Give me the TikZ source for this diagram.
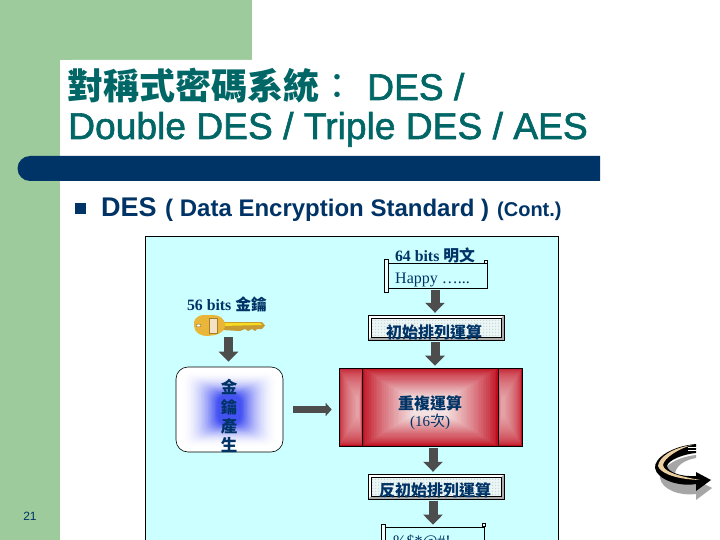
\documentclass[tikz,border=0pt]{standalone}
\usepackage{fontspec}
\setmainfont{Liberation Serif}
\setsansfont{Liberation Sans}
\newfontfamily\cjk{Noto Sans CJK TC}
\newfontfamily\titlesf[FakeBold=1.6]{Liberation Sans}
\usetikzlibrary{arrows.meta, patterns}
\definecolor{Side}{HTML}{9DCB9C}
\definecolor{Navy}{HTML}{003366}
\definecolor{TitleTeal}{HTML}{006666}
\definecolor{Panel}{HTML}{CCFFFF}
\definecolor{ArrowGray}{HTML}{4D4D4D}
\definecolor{BoxRed}{HTML}{C00D1E}
\definecolor{PaleRed}{HTML}{F4E2E2}
\definecolor{KeyGold}{HTML}{E9B63A}
\definecolor{KeyBlue}{HTML}{4552F2}
\definecolor{Tan}{HTML}{EBCFA0}
\definecolor{PaleFill}{HTML}{EAF6F6}
\pgfdeclarepatternformonly{sparsedots}{\pgfpointorigin}{\pgfqpoint{3pt}{3pt}}{\pgfqpoint{3pt}{3pt}}{
  \pgfpathcircle{\pgfqpoint{1pt}{1pt}}{0.42pt}\pgfusepath{fill}}
\tikzset{
  blockarrow/.style={ArrowGray, line width=9pt, shorten >=2pt, shorten <=2pt, -{Triangle[length=10pt, width=19pt]}},
  thinarrow/.style={ArrowGray, line width=7pt, shorten >=7pt, shorten <=10pt, -{Triangle[length=6pt, width=13pt]}},
  boxtext/.style={Navy, font=\cjk\bfseries\fontsize{16}{17}\selectfont, inner sep=0pt},
  vertext/.style={Navy, font=\cjk\bfseries\fontsize{16.5}{17}\selectfont, inner sep=0pt},
  labeltext/.style={Navy, inner sep=0pt, font=\bfseries\fontsize{15.8}{17}\selectfont},
  scrollbox/.style={draw=black, fill=Panel, minimum width=100pt, minimum height=25pt, inner sep=0pt, line width=0.7pt},
  scrollcurl/.style={draw=black, fill=Panel!40!white, inner sep=0pt, line width=0.5pt},
  bevel/.style={fill=gray!65, minimum width=136pt, minimum height=25pt, inner sep=0pt},
  bevelinner/.style={draw=black, minimum width=130pt, minimum height=19pt, inner sep=0pt, line width=0.4pt, preaction={fill=PaleFill}, pattern=sparsedots, pattern color=gray!80},
  panetext/.style={Navy, inner sep=0pt, anchor=base west, font=\fontsize{16}{18}\selectfont},
  titletext/.style={TitleTeal, anchor=base west, inner sep=0pt, font=\titlesf\fontsize{37.2}{38}\selectfont}
}
\begin{document}
\begin{tikzpicture}[x=1pt, y=-1pt]
  \clip (0,0) rectangle (720,540);
  % Slide background
  \fill[white] (0,0) rectangle (720,540);
  \fill[Side] (0,0) rectangle (252,60);
  \fill[Side] (0,0) rectangle (60,540);
  \fill[white] (60,72) arc[start angle=180, end angle=270, radius=12] -- (252,60) -- (252,72) -- cycle;
  % Title
  \node[titletext, font=\cjk\bfseries\fontsize{36}{36}\selectfont] (title1) at (67,100) {對稱式密碼系統};
  \node[titletext, font=\cjk\fontsize{36}{36}\selectfont] (titlecolon) at (title1.base east) {：};
  \node[titletext] (title2) at (367,100) {DES /};
  \node[titletext] (title3) at (68,139) {Double DES / Triple DES / AES};
  \fill[Navy] (600,156) -- (30,156) arc[start angle=270, end angle=90, radius=12.5] -- (600,181) -- cycle;
  % Bullet line
  \fill[Navy] (75,203) rectangle (86,214);
  \node[Navy, anchor=base west, inner sep=0pt, font=\sffamily\bfseries\fontsize{27}{28}\selectfont] (des) at (101,217) {DES};
  \node[Navy, anchor=base west, inner sep=0pt, font=\sffamily\bfseries\fontsize{24}{26}\selectfont] (desname) at (165,217) {( Data Encryption Standard )};
  \node[Navy, anchor=base west, inner sep=0pt, font=\sffamily\bfseries\fontsize{20}{22}\selectfont] (cont) at (497,217) {(Cont.)};
  \node[Navy, font=\sffamily\fontsize{12}{14}\selectfont, inner sep=0pt] (pagenum) at (30,516) {21};
  % Panel
  \draw[black, fill=Panel, line width=0.7pt] (145,236) rectangle (558,560);
  % Key
  \node[labeltext] (keylabel) at (227,304) {56 bits {\cjk 金鑰}};
  \node[inner sep=0pt, minimum width=71pt, minimum height=21pt] (keyimg) at (229.5,325.5) {};
  \fill[KeyGold!85!black] (222,322) -- (262,322) -- (265,325.5) -- (262,329) -- (257,329) -- (255,331) -- (252,329) -- (248,331) -- (245,329) -- (240,331) -- (222,330) -- cycle;
  \fill[yellow!60!KeyGold] (222,323) -- (260,323) -- (262,325) -- (222,326) -- cycle;
  \fill[KeyGold] (205,315) .. controls (196,315) and (193,320) .. (194,326) .. controls (195,333) and (200,336) .. (208,336) -- (215,335) .. controls (222,333) and (225,330) .. (225,325) .. controls (225,319) and (220,315) .. (213,315) -- cycle;
  \fill[Tan!60!white, draw=KeyGold!70!black, line width=0.4pt] (209,318) rectangle (217,333);
  \fill[white, draw=KeyGold!60!black, line width=0.4pt] (198.5,325.5) circle[x radius=2.5, y radius=1.5];
  % Key generator, nested fill
  \fill[white, rounded corners=12pt] (176,367) rectangle (283,452);
  \foreach \i in {0,...,30} {
    \pgfmathsetmacro{\mix}{min(100,\i*\i/7)}
    \fill[KeyBlue!\mix!white, rounded corners=8pt] ({180+\i*1.4},{371+\i*0.9}) rectangle ({279-\i*1.4},{448-\i*0.9});
  }
  \node[draw=black, rounded corners=12pt, minimum width=107pt, minimum height=85pt, inner sep=0pt, line width=0.6pt] (keygen) at (229.5,409.5) {};
  \node[vertext] (kg1) at (229,387) {金};
  \node[vertext] (kg2) at (229,407) {鑰};
  \node[vertext] (kg3) at (229,426) {產};
  \node[vertext] (kg4) at (229,445) {生};
  % Plaintext scroll
  \node[labeltext] (plainlabel) at (435,255) {64 bits {\cjk 明文}};
  \node[scrollbox] (plain) at (437,275.5) {};
  \node[scrollcurl, minimum width=4pt, minimum height=33pt] (plaincurl) at (386,275.5) {};
  \node[scrollcurl, minimum size=3pt] (plaintip) at (485.5,261.5) {};
  \node[panetext] (plaintext) at (395,283) {Happy …...};
  % Permutation boxes
  \node[bevel] (ipbox) at (436,327.5) {};
  \node[bevel] (fpbox) at (436,486.5) {};
  \foreach \b in {ipbox, fpbox} {
    \fill[white] (\b.north west) -- (\b.north east) -- ([xshift=-3pt, yshift=-3pt]\b.north east) -- ([xshift=3pt, yshift=-3pt]\b.north west) -- ([xshift=3pt, yshift=3pt]\b.south west) -- (\b.south west) -- cycle;
    \draw[black, line width=0.6pt] (\b.north west) rectangle (\b.south east);
  }
  \node[bevelinner] (ipinner) at (ipbox) {};
  \node[bevelinner] (fpinner) at (fpbox) {};
  \node[boxtext] (iptext) at (434,332) {初始排列運算};
  \node[boxtext] (fptext) at (435,490) {反初始排列運算};
  % Repeated rounds, nested fill
  \fill[BoxRed] (339,368) rectangle (522,446);
  \foreach \i in {0,...,30} {
    \pgfmathsetmacro{\mix}{100*(\i/30)^0.8}
    \pgfmathsetmacro{\side}{70*sqrt(\i/30)}
    \fill[PaleRed!\mix!BoxRed] ({362+\i*1.7},{368+\i*1.05}) rectangle ({498-\i*1.7},{446-\i*1.05});
    \fill[PaleRed!\side!BoxRed] ({339+\i*0.6},{368+\i*1.0}) rectangle ({362-\i*0.1},{446-\i*1.0});
    \fill[PaleRed!\side!BoxRed] ({498+\i*0.1},{368+\i*1.0}) rectangle ({522-\i*0.6},{446-\i*1.0});
  }
  \node[draw=black, minimum width=183pt, minimum height=78pt, inner sep=0pt, line width=0.6pt] (rounds) at (430.5,407) {};
  \draw[black, line width=0.6pt] (362,368) -- (362,446);
  \draw[black, line width=0.6pt] (498,368) -- (498,446);
  \node[boxtext] (roundstext) at (430,403) {重複運算};
  \node[Navy, inner sep=0pt, font=\fontsize{15}{17}\selectfont] (roundscount) at (430,422) {(16{\cjk 次})};
  % Ciphertext scroll
  \node[scrollbox] (cipher) at (434,539.5) {};
  \node[scrollcurl, minimum width=4pt, minimum height=33pt] (ciphercurl) at (383,541) {};
  \node[scrollcurl, minimum size=3pt] (ciphertip) at (483.5,525) {};
  \node[panetext] (ciphertext) at (393,546) {\%\$*@\#!};
  % Connectors
  \draw[blockarrow] ([xshift=-2pt]plain.south) -- ([xshift=-1pt]ipbox.north);
  \draw[blockarrow] ([xshift=-1pt]ipbox.south) -- ([xshift=4.5pt]rounds.north);
  \draw[blockarrow] ([xshift=2.5pt]rounds.south) -- ([xshift=-3pt]fpbox.north);
  \draw[blockarrow] ([xshift=-3pt]fpbox.south) -- ([xshift=-1pt]cipher.north);
  \draw[blockarrow, shorten <=1pt, shorten >=5pt] ([xshift=-1pt]keyimg.south) -- ([xshift=-1pt]keygen.north);
  \draw[thinarrow] (keygen.east) -- (rounds.west |- keygen.east);
  % Return icon
  \node[inner sep=0pt, minimum width=58pt, minimum height=52pt] (returnicon) at (683,471) {};
  \fill[gray!70] (696,455) .. controls (676,457) and (660,468) .. (660,478) .. controls (662,490) and (680,496) .. (696,494) -- (696,500) -- (712,488) -- (696,480) .. controls (682,484) and (672,478) .. (676,470) .. controls (680,462) and (690,459) .. (696,458) -- cycle;
  \fill[black] (696,444) .. controls (672,446) and (654,458) .. (655,468) .. controls (657,480) and (680,487) .. (696,484) -- (696,491) -- (711,480) -- (696,472) -- (696,476) .. controls (680,477) and (668,472) .. (667,466) .. controls (668,460) and (684,454) .. (696,453) -- cycle;
  \fill[Tan] (692,445) .. controls (672,448) and (659,457) .. (658,466) .. controls (660,472) and (672,479) .. (700,480) .. controls (678,476) and (664,472) .. (663,465) .. controls (664,458) and (678,449) .. (692,445) -- cycle;
  \foreach \y in {447,450} {
    \draw[white, line width=0.6pt] (688,\y) -- (697,\y);
  }
\end{tikzpicture}
\end{document}
